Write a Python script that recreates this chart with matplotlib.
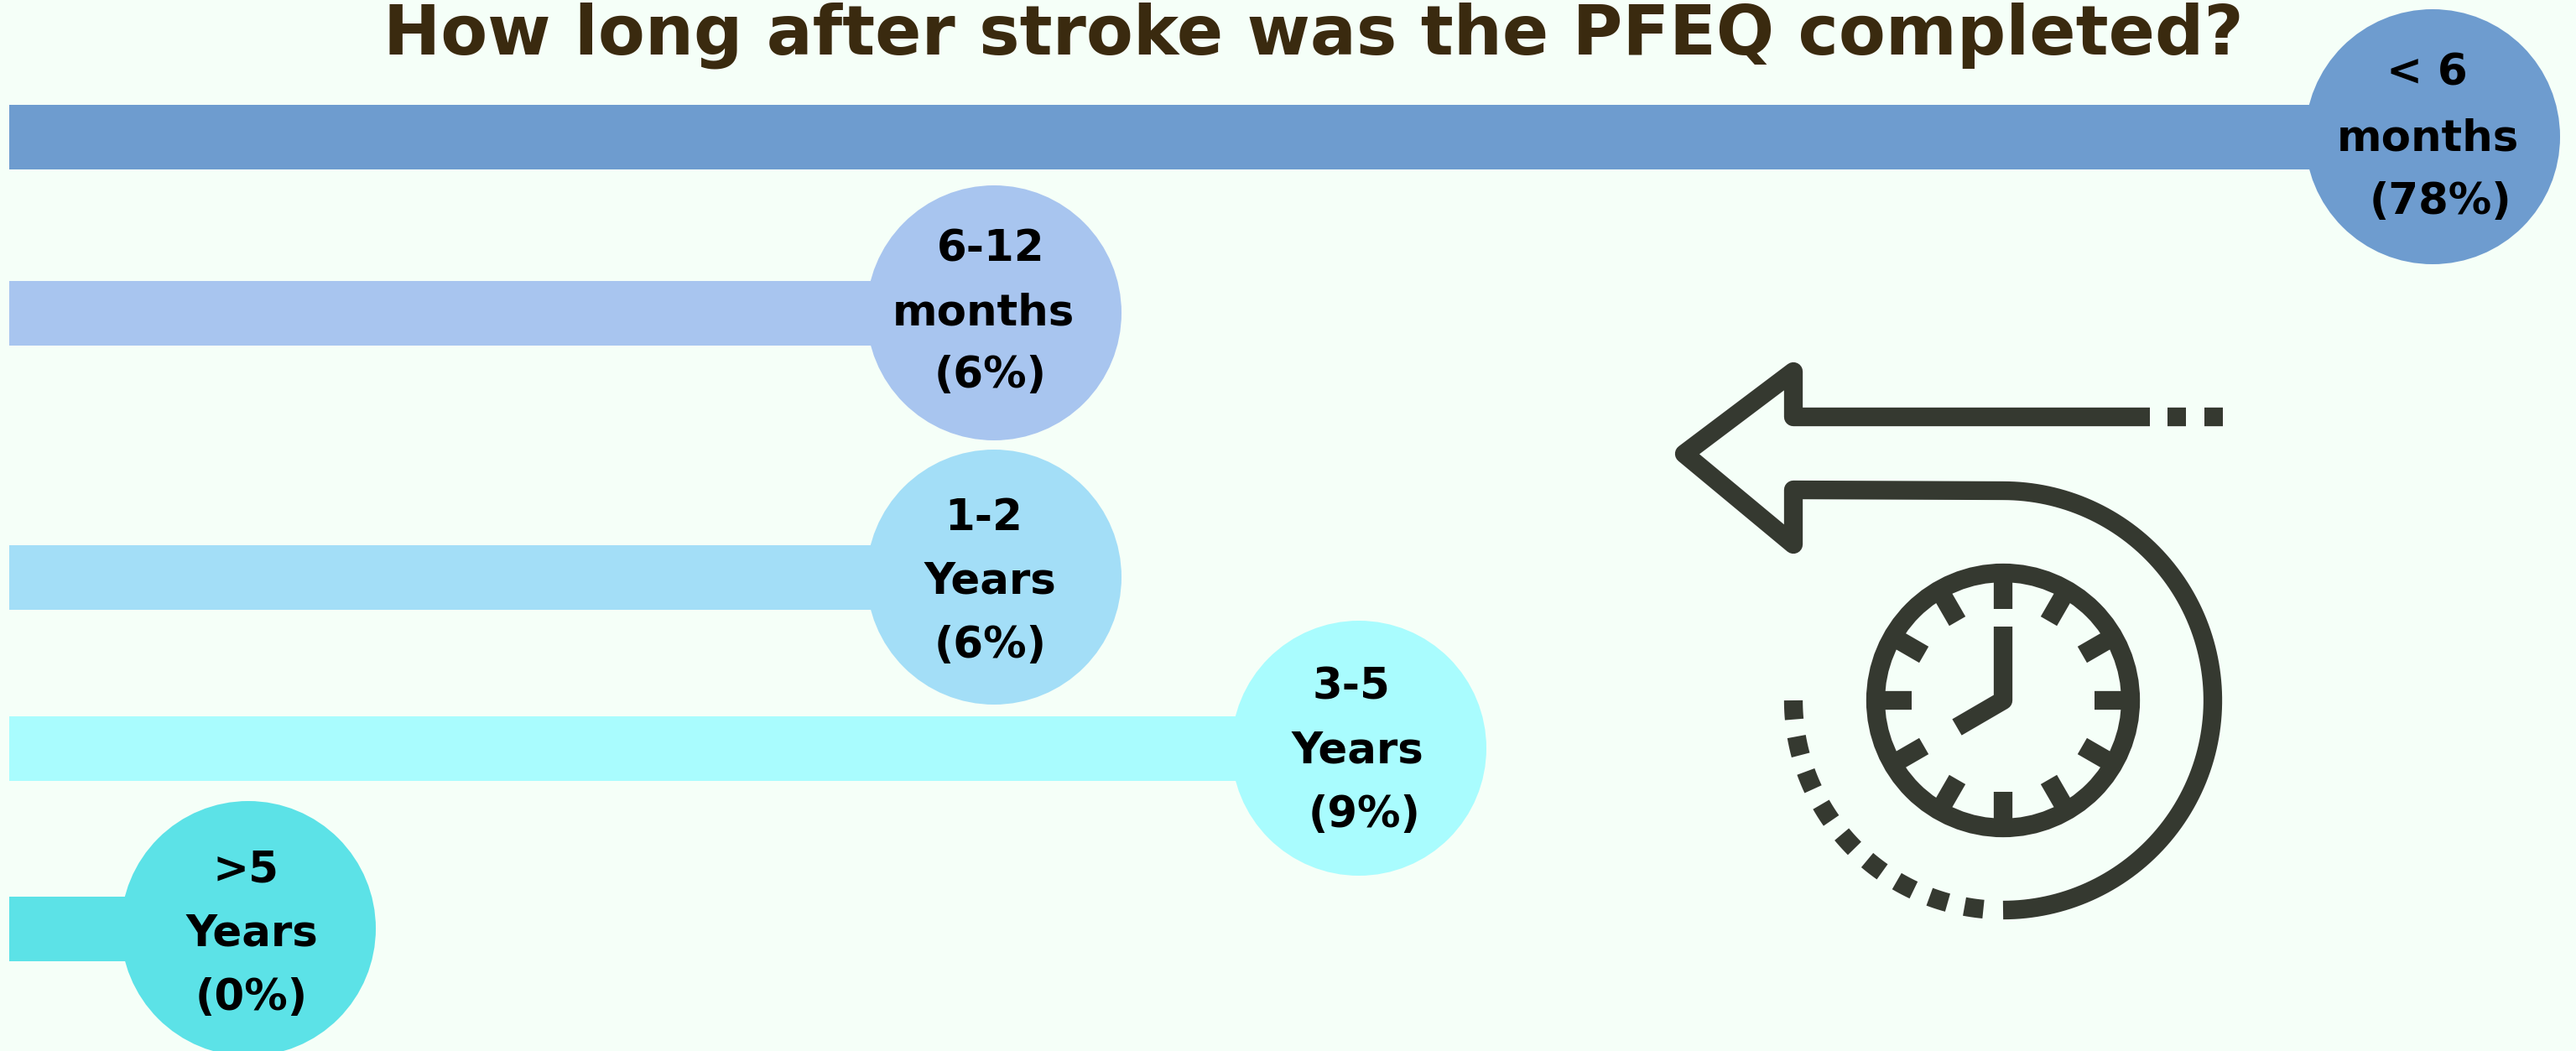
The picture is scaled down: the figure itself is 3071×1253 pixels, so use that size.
import numpy as np
import matplotlib
matplotlib.use('Agg')
import matplotlib.pyplot as plt
from matplotlib.path import Path
from matplotlib.patches import Circle, PathPatch

plt.rcParams['font.family'] = ['DejaVu Sans']

title = 'How long after stroke was the PFEQ completed?'
categories = ['< 6\nmonths', '6-12\nmonths', '1-2\nYears', '3-5\nYears', '>5\nYears']
percent = [78, 6, 6, 9, 0]
percent_labels = ['(78%)', '(6%)', '(6%)', '(9%)', '(0%)']
colors = ['#6e9ccf', '#a8c5ef', '#a3def7', '#a9fcfe', '#5ce2e7']

# layout, all in pixels of the 3071x1253 picture
W, H = 3071, 1253
DPI = 100
BG = '#f5fff8'
INK = '#353930'
row_y = [163, 373, 688, 892, 1107]
bar_h = 77
circle_d = 304
# the bars are not to scale in the original, so the x axis is piecewise
scale_pct = [-2, 0, 6, 9, 78, 82]
scale_px = [0, 296, 1185, 1620, 2900, 3071]
bar_start = -1.926
# centre x and baseline y for each of the three lines in a bubble
label_x = [[2893, 2894, 2909], [1181, 1172, 1181], [1173, 1180, 1181],
           [1611, 1618, 1627], [293, 300, 300]]
label_y = [[102, 180, 255], [311, 387, 462], [632, 708, 784],
           [834, 910, 986], [1052, 1128, 1204]]
LABEL_SIZE = 37
TITLE_SIZE = 58.7
STROKE = 22.3 * 72 / DPI


def to_px(v):
    return np.interp(v, scale_pct, scale_px)


def from_px(v):
    return np.interp(v, scale_px, scale_pct)


fig = plt.figure(figsize=(W / DPI, H / DPI), dpi=DPI, facecolor=BG)

# bars and bubbles
ax = fig.add_axes([0, 0, 1, 1])
ax.set_xscale('function', functions=(to_px, from_px))
ax.set_xlim(scale_pct[0], scale_pct[-1])
ax.set_ylim(H, 0)
ax.axis('off')
ax.barh(row_y, np.array(percent) - bar_start, left=bar_start, height=bar_h,
        color=colors, linewidth=0)
ax.scatter(percent, row_y, s=(circle_d * 72 / DPI) ** 2, c=colors, linewidths=0, zorder=3)

# text and clock icon, plain pixel axes on top
top = fig.add_axes([0, 0, 1, 1])
top.set_xlim(0, W)
top.set_ylim(H, 0)
top.axis('off')
top.patch.set_alpha(0)

top.text(1566, 65, title, fontsize=TITLE_SIZE, fontweight='bold', color='#3a2a0f',
         ha='center', va='baseline')

for i, cat in enumerate(categories):
    lines = cat.split('\n') + [percent_labels[i]]
    for line, x, y in zip(lines, label_x[i], label_y[i]):
        top.text(x, y, line, fontsize=LABEL_SIZE, fontweight='bold', color='black',
                 ha='center', va='baseline', zorder=5)

# arrow running into the big arc
cx, cy = 2388, 835
big_r = 250
theta = np.radians(np.linspace(-90, 90, 120))
arc_x = cx + big_r * np.cos(theta)
arc_y = cy + big_r * np.sin(theta)
arrow_x = [2563, 2138, 2138, 2008, 2138, 2138] + list(arc_x)
arrow_y = [497, 497, 443, 541, 649, 584] + list(arc_y)
top.plot(arrow_x, arrow_y, color=INK, lw=STROKE, solid_joinstyle='round', solid_capstyle='butt')

# two dots at the arrow tail
for x0, x1 in [(2584, 2606), (2628, 2650)]:
    top.plot([x0, x1], [497, 497], color=INK, lw=STROKE, solid_capstyle='butt')

# dashes finishing the circle, bottom left
for a in np.linspace(98, 177.4, 9):
    t = np.radians(np.linspace(a - 2.6, a + 2.6, 6))
    top.plot(cx + big_r * np.cos(t), cy + big_r * np.sin(t), color=INK, lw=STROKE,
             solid_capstyle='butt')

# clock face
top.add_patch(Circle((cx, cy), 152, fill=False, ec=INK, lw=STROKE))
for a in np.radians(np.arange(0, 360, 30)):
    top.plot([cx + 142 * np.sin(a), cx + 109 * np.sin(a)],
             [cy - 142 * np.cos(a), cy - 109 * np.cos(a)],
             color=INK, lw=STROKE, solid_capstyle='butt')

# hands
hands = Path([(cx, cy - 88), (cx, cy), (cx - 55, cy + 32)])
top.add_patch(PathPatch(hands, fill=False, ec=INK, lw=STROKE, joinstyle='round', capstyle='butt'))

fig.savefig('out.png', dpi=DPI, facecolor=BG)
